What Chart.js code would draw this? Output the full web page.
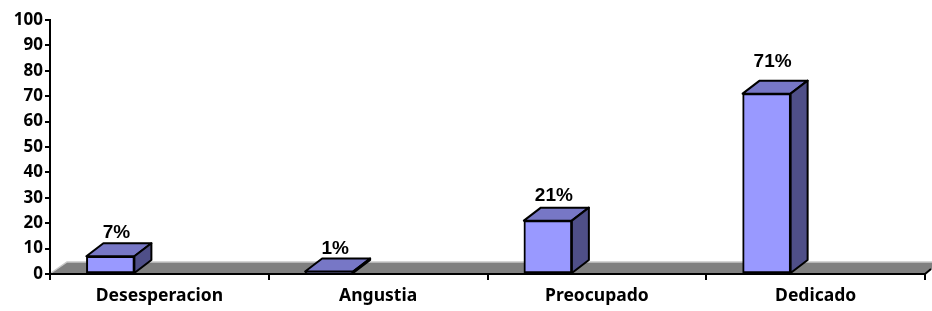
<!DOCTYPE html>
<html>
<head>
<meta charset="utf-8">
<script src="https://cdn.jsdelivr.net/npm/chart.js@4.4.1/dist/chart.umd.min.js"></script>
<style>
  html, body { margin: 0; padding: 0; background: #fff; }
  #wrap { width: 932px; height: 311px; }
</style>
</head>
<body>
<div id="wrap"><canvas id="chart" width="932" height="311"></canvas></div>
<script>
// Data
const categories = ['Desesperacion', 'Angustia', 'Preocupado', 'Dedicado'];
const values = [7, 1, 21, 71];
const valueLabels = ['7%', '1%', '21%', '71%'];

// 3D look
const AXIS_FONT = '"Noto Sans", "Open Sans", sans-serif';
const LABEL_FONT = '"Liberation Sans", Arial, sans-serif';
const DEPTH_X = 17;
const DEPTH_Y = 13;
const BAR_SHIFT = -49;
const FRONT = '#9999ff';
const TOP = '#7777c6';
const SIDE = '#4f4f88';

// Gray floor behind the bars
const floorPlugin = {
    id: 'floor',
    beforeDraw(chart) {
        const { ctx, chartArea } = chart;
        const y0 = chart.scales.y.getPixelForValue(0);
        ctx.save();
        ctx.beginPath();
        ctx.moveTo(chartArea.left, y0);
        ctx.lineTo(chartArea.right, y0);
        ctx.lineTo(chartArea.right + DEPTH_X, y0 - 12);
        ctx.lineTo(chartArea.left + DEPTH_X, y0 - 12);
        ctx.closePath();
        ctx.fillStyle = '#808080';
        ctx.fill();
        ctx.beginPath();
        ctx.moveTo(chartArea.left + 1, y0 - 1);
        ctx.lineTo(chartArea.left + DEPTH_X, y0 - 12);
        ctx.lineTo(chartArea.right + DEPTH_X, y0 - 12);
        ctx.strokeStyle = '#c8c8c8';
        ctx.lineWidth = 1.5;
        ctx.stroke();
        // small end piece at the right of the axis
        ctx.beginPath();
        ctx.moveTo(chartArea.right, y0);
        ctx.lineTo(chartArea.right + 6, y0 - 5);
        ctx.strokeStyle = '#000';
        ctx.lineWidth = 2;
        ctx.stroke();
        ctx.restore();
    }
};

// Shift bars and add top and side faces plus value labels
const bar3dPlugin = {
    id: 'bar3d',
    beforeDatasetsDraw(chart) {
        chart.ctx.save();
        chart.ctx.translate(BAR_SHIFT, 0);
    },
    afterDatasetsDraw(chart) {
        const { ctx } = chart;
        const meta = chart.getDatasetMeta(0);
        meta.data.forEach((bar, i) => {
            const left = bar.x - bar.width / 2;
            const right = bar.x + bar.width / 2;
            const top = bar.y;
            const bottom = bar.base;
            ctx.lineWidth = 2;
            ctx.strokeStyle = '#000';
            ctx.lineJoin = 'round';

            // top face
            ctx.beginPath();
            ctx.moveTo(left, top);
            ctx.lineTo(left + DEPTH_X, top - DEPTH_Y);
            ctx.lineTo(right + DEPTH_X, top - DEPTH_Y);
            ctx.lineTo(right, top);
            ctx.closePath();
            ctx.fillStyle = TOP;
            ctx.fill();
            ctx.stroke();

            // side face
            ctx.beginPath();
            ctx.moveTo(right, top);
            ctx.lineTo(right + DEPTH_X, top - DEPTH_Y);
            ctx.lineTo(right + DEPTH_X, bottom - DEPTH_Y);
            ctx.lineTo(right, bottom);
            ctx.closePath();
            ctx.fillStyle = SIDE;
            ctx.fill();
            ctx.stroke();

            // label, a bit higher for taller bars (perspective)
            const gap = 4 + (bottom - top) * 0.055;
            ctx.fillStyle = '#000';
            ctx.font = 'bold 19px ' + LABEL_FONT;
            ctx.textAlign = 'center';
            ctx.textBaseline = 'alphabetic';
            ctx.fillText(valueLabels[i], bar.x + 6, top - DEPTH_Y - gap);
        });
        ctx.restore();
    }
};

const ctx = document.getElementById('chart').getContext('2d');
new Chart(ctx, {
    type: 'bar',
    data: {
        labels: categories,
        datasets: [{
            data: values,
            backgroundColor: FRONT,
            borderColor: '#000',
            borderWidth: 2,
            borderSkipped: false,
            barThickness: 48
        }]
    },
    options: {
        responsive: false,
        animation: false,
        layout: { padding: { top: 20, right: 7, left: 0, bottom: 0 } },
        plugins: {
            legend: { display: false },
            tooltip: { enabled: false }
        },
        scales: {
            x: {
                afterFit: (s) => { s.height = 37; },
                grid: {
                    offset: true,
                    drawOnChartArea: false,
                    drawTicks: true,
                    tickLength: 6,
                    color: '#000',
                    lineWidth: 2
                },
                border: { display: true, color: '#000', width: 2 },
                ticks: {
                    color: '#000',
                    padding: 6,
                    font: { family: AXIS_FONT, size: 17.5, weight: 'bold' }
                }
            },
            y: {
                min: 0,
                max: 100,
                afterFit: (s) => { s.width = 50; },
                grid: {
                    drawOnChartArea: false,
                    drawTicks: true,
                    tickLength: 5,
                    color: '#000',
                    lineWidth: 2
                },
                border: { display: true, color: '#000', width: 2 },
                ticks: {
                    stepSize: 10,
                    color: '#000',
                    padding: 2,
                    font: { family: AXIS_FONT, size: 17, weight: 'bold' }
                }
            }
        }
    },
    plugins: [floorPlugin, bar3dPlugin]
});
</script>
</body>
</html>
